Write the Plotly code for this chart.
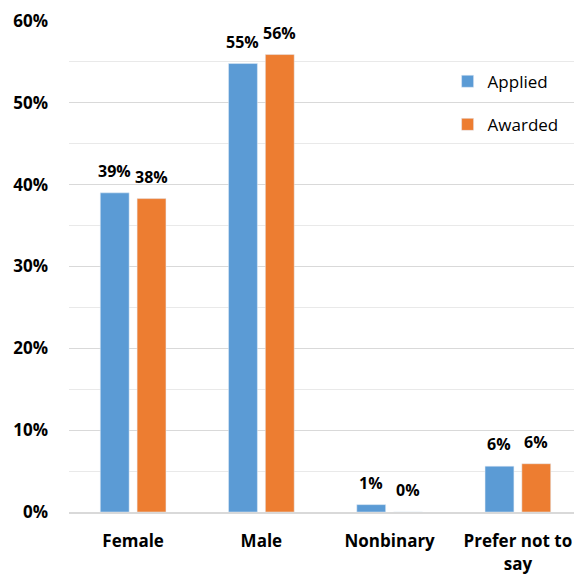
import plotly.graph_objects as go

categories = ["Female", "Male", "Nonbinary", "Prefer not to<br>say"]
applied = [0.39, 0.548, 0.009, 0.056]
awarded = [0.383, 0.559, 0.0, 0.059]
series_names = ["Applied", "Awarded"]
colors = ["#5B9BD5", "#ED7D31"]

FONT = "Open Sans"

fig = go.Figure()
for i, (name, vals, col) in enumerate(zip(series_names, [applied, awarded], colors)):
    fig.add_trace(go.Bar(
        x=categories, y=vals, name=name, marker_color=col,
        legendgroup=name, offsetgroup=str(i),
    ))

# data labels placed through the axes, shifted above each bar
offsets = [-0.5, 0.5]
for vals, off in zip([applied, awarded], offsets):
    for j, v in enumerate(vals):
        fig.add_annotation(
            x=j + off * 0.29, y=v, xref="x", yref="y",
            text=f"{v:.0%}", showarrow=False, yanchor="middle", yshift=22,
            font=dict(family=FONT, size=16, color="#000000", weight="bold"),
        )

fig.update_layout(
    width=574, height=566,
    margin=dict(l=61, r=0, t=13, b=62, autoexpand=False),
    paper_bgcolor="white", plot_bgcolor="white",
    barmode="group", bargap=0.426, bargroupgap=0.216,
    font=dict(family=FONT, color="#000000"),
    legend=dict(x=0.738, y=0.913, xanchor="left", yanchor="top",
                font=dict(family=FONT, size=17, color="#000000"),
                tracegroupgap=18, traceorder="grouped", itemwidth=30,
                bgcolor="rgba(0,0,0,0)"),
    xaxis=dict(showline=True, linecolor="#D9D9D9", linewidth=2, ticks="",
               ticklabelstandoff=13, automargin=False,
               tickfont=dict(family=FONT, size=17, weight="bold")),
    yaxis=dict(range=[0, 0.6], dtick=0.1, tickformat=".0%",
               showgrid=True, gridcolor="#D9D9D9", gridwidth=1,
               zeroline=False, showline=False, ticks="", automargin=False,
               ticklabelstandoff=20,
               tickfont=dict(family=FONT, size=17, weight="bold"),
               minor=dict(dtick=0.05, showgrid=True, gridcolor="#E9E9E9", gridwidth=1)),
)

fig.write_html("out.html")
